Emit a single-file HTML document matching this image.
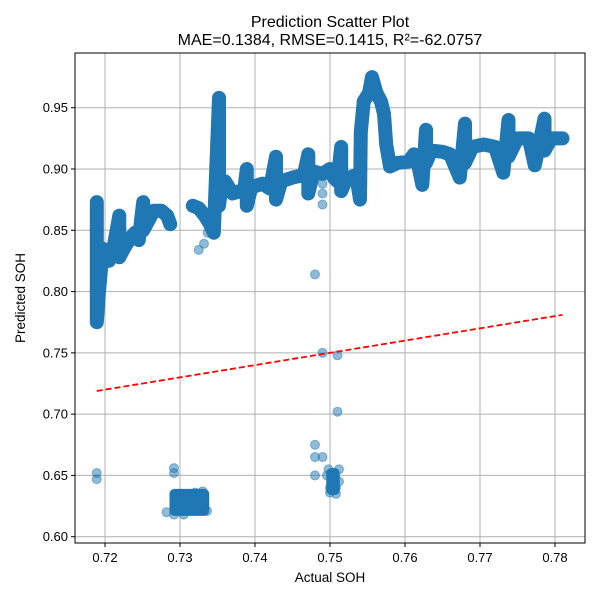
<!DOCTYPE html>
<html><head><meta charset="utf-8"><style>
body{margin:0;background:#fff;}
svg{display:block;font-family:"Liberation Sans","DejaVu Sans",sans-serif;}
</style></head><body>
<svg id="chart" width="600" height="600" xmlns="http://www.w3.org/2000/svg">
<rect width="600" height="600" fill="#fff"/>
<text x="330" y="27" text-anchor="middle" font-size="16">Prediction Scatter Plot</text>
<text x="330" y="45" text-anchor="middle" font-size="16">MAE=0.1384, RMSE=0.1415, R²=-62.0757</text>
<g id="grid"></g>
<g id="marks"></g>
<rect x="75" y="53" width="510" height="490" fill="none" stroke="#000" stroke-width="1"/>
<g id="ticks"></g>
<text x="330" y="582" text-anchor="middle" font-size="13.5">Actual SOH</text>
<text x="25" y="298" text-anchor="middle" font-size="13.5" transform="rotate(-90 25 298)">Predicted SOH</text>
</svg>
<script>
const xTicks=[0.72,0.73,0.74,0.75,0.76,0.77,0.78];
const yTicks=[0.60,0.65,0.70,0.75,0.80,0.85,0.90,0.95];
const bandA=[[0.7189,0.873],[0.7189,0.775],[0.7192,0.80],[0.7197,0.835],[0.7205,0.825],[0.7212,0.838],[0.7219,0.862],[0.7219,0.828],[0.7225,0.835],[0.7233,0.843],[0.7240,0.848],[0.7245,0.842],[0.7251,0.873],[0.7251,0.850],[0.7258,0.858],[0.7265,0.866],[0.7275,0.866],[0.7283,0.862],[0.7287,0.855]];
const bandB=[[0.7317,0.870],[0.7325,0.868],[0.7333,0.862],[0.7340,0.855],[0.7345,0.848],[0.7347,0.88],[0.7352,0.958],[0.7352,0.87],[0.7355,0.885],[0.7360,0.89],[0.7370,0.88],[0.7380,0.882],[0.7385,0.88],[0.7389,0.90],[0.7389,0.87],[0.7395,0.885],[0.7410,0.888],[0.7420,0.884],[0.7428,0.91],[0.7428,0.875],[0.7435,0.89],[0.7450,0.893],[0.7465,0.895],[0.7471,0.912],[0.7471,0.88],[0.7478,0.898],[0.7490,0.896],[0.7500,0.90],[0.7505,0.893],[0.7510,0.89],[0.7515,0.918],[0.7515,0.882],[0.7522,0.892],[0.7535,0.895],[0.7540,0.875],[0.7541,0.93],[0.7545,0.955],[0.7552,0.962],[0.7556,0.975],[0.7562,0.962],[0.7568,0.955],[0.7572,0.945],[0.7575,0.92],[0.7580,0.902],[0.7590,0.905],[0.7605,0.906],[0.7612,0.912],[0.7617,0.905],[0.7623,0.887],[0.7628,0.932],[0.7628,0.905],[0.7635,0.915],[0.7650,0.914],[0.7660,0.912],[0.7673,0.893],[0.7680,0.937],[0.7680,0.905],[0.7690,0.918],[0.7705,0.92],[0.7720,0.918],[0.7731,0.897],[0.7738,0.94],[0.7738,0.91],[0.7750,0.925],[0.7765,0.925],[0.7773,0.903],[0.7786,0.941],[0.7786,0.915],[0.7795,0.925],[0.7810,0.925]];
const outA=[0.7325,0.7332,0.7337,0.748,0.749,0.751,0.751,0.749,0.749,0.749,0.7189,0.7189,0.748,0.748,0.748,0.749];
const outP=[0.834,0.839,0.848,0.814,0.750,0.748,0.702,0.871,0.880,0.888,0.652,0.647,0.675,0.665,0.650,0.665];
const lowA=[0.7292,0.7292,0.7292,0.7282,0.7305,0.7310,0.7315,0.7320,0.7325,0.7330,0.7336,0.7300,0.7310,0.7320,0.7330,0.7295,0.7305,0.7318,0.7328,0.7496,0.7500,0.7504,0.7508,0.7512,0.7498,0.7506,0.7512,0.7500,0.7508];
const lowP=[0.656,0.652,0.618,0.620,0.625,0.622,0.628,0.626,0.630,0.624,0.621,0.635,0.633,0.636,0.637,0.630,0.618,0.632,0.626,0.650,0.640,0.645,0.635,0.655,0.655,0.652,0.645,0.636,0.640];
const refA=[0.7189,0.7810];

const NS="http://www.w3.org/2000/svg";
const X=v=>105+(v-0.72)*7500;
const Y=v=>169+(0.90-v)*1225.7;
const grid=document.getElementById('grid'),ticks=document.getElementById('ticks'),marks=document.getElementById('marks');
function mk(tag,at,parent){const e=document.createElementNS(NS,tag);for(const k in at)e.setAttribute(k,at[k]);parent.appendChild(e);return e;}
xTicks.forEach(t=>{
  const g=mk('line',{x1:X(t),x2:X(t),y1:53,y2:543,stroke:'#b0b0b0','stroke-width':1},grid);
  
  
  mk('line',{x1:X(t),x2:X(t),y1:543,y2:547,stroke:'#000'},ticks);
  const tx=mk('text',{x:X(t),y:562,'text-anchor':'middle','font-size':13},ticks);
  tx.textContent=t.toFixed(2);
  
  
});
yTicks.forEach(t=>{
  const g=mk('line',{x1:75,x2:585,y1:Y(t),y2:Y(t),stroke:'#b0b0b0','stroke-width':1},grid);
  
  
  mk('line',{x1:71,x2:75,y1:Y(t),y2:Y(t),stroke:'#000'},ticks);
  const tx=mk('text',{x:68,y:Y(t)+4.5,'text-anchor':'end','font-size':13},ticks);
  tx.textContent=t.toFixed(2);
  
  
});
function band(arr,name){
  const d=arr.map((p,i)=>(i?'L':'M')+X(p[0]).toFixed(1)+' '+Y(p[1]).toFixed(1)).join(' ');
  const p=mk('path',{d:d,fill:'none',stroke:'#1f77b4','stroke-width':14,'stroke-linejoin':'round','stroke-linecap':'round'},marks);
  
  
}
band(bandA,'point-band-left');
band(bandB,'point-band-main');
function pts(A,P,name){
  A.forEach((a,i)=>{
    const c=mk('circle',{cx:X(a),cy:Y(P[i]),r:4.5,fill:'#1f77b4','fill-opacity':0.5,stroke:'#1f77b4','stroke-opacity':0.5},marks);
    
    
  });
}
pts(outA,outP,'outlier-point');
const cl1=mk('rect',{x:X(0.7286),y:Y(0.639),width:X(0.7339)-X(0.7286),height:Y(0.617)-Y(0.639),fill:'#1f77b4',rx:5},marks);


const cl2=mk('rect',{x:X(0.7495),y:Y(0.656),width:X(0.7513)-X(0.7495),height:Y(0.634)-Y(0.656),fill:'#1f77b4',rx:5},marks);


pts(lowA,lowP,'low-point');
const ref=mk('line',{x1:X(refA[0]),y1:Y(refA[0]),x2:X(refA[1]),y2:Y(refA[1]),stroke:'#ff0000','stroke-width':1.8,'stroke-dasharray':'6 3'},marks);


</script>
</body></html>
